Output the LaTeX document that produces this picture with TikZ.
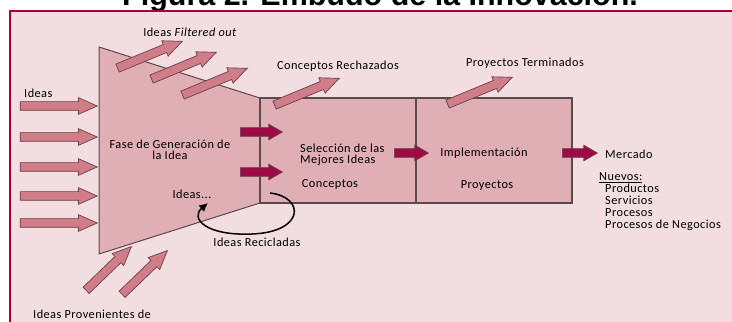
\documentclass[tikz,border=0pt]{standalone}
\usepackage{fontspec}
\setmainfont{Carlito}[LetterSpace=3.6]
\newfontfamily\titlefont{Liberation Sans}
\usetikzlibrary{shapes.arrows,arrows.meta}

\definecolor{panelpink}{HTML}{F2DEE1}
\definecolor{framered}{HTML}{A8003F}
\definecolor{stagefill}{HTML}{E0AEB5}
\definecolor{boxline}{HTML}{5A4A4E}
\definecolor{arrowpink}{HTML}{CE7D89}
\definecolor{arrowdark}{HTML}{9C0B45}
\definecolor{arrowline}{HTML}{6E3C46}

\begin{document}
\begin{tikzpicture}[x=0.3mm,y=-0.3mm,
  lbl/.style={font=\fontsize{10.5}{9.4}\selectfont, inner sep=0pt},
  blockarrow/.style={single arrow, draw=arrowline, line width=0.2mm,
    inner xsep=0pt, inner ysep=1.2mm, anchor=tip},
  pinkarrow/.style={blockarrow, fill=arrowpink, single arrow head extend=1.2mm,
    single arrow tip angle=48},
  darkarrow/.style={blockarrow, fill=arrowdark, single arrow head extend=1.05mm,
    single arrow tip angle=60},
  stagebox/.style={draw=boxline, line width=0.4mm, fill=stagefill,
    minimum width=46.8mm, minimum height=31.5mm, inner sep=0pt}]
\useasboundingbox (0,0) rectangle (732,322);
\clip (0,0) rectangle (732,322);

% title, cut by the panel
\node[anchor=base west, inner sep=0pt,
  font=\titlefont\bfseries\fontsize{26}{30}\selectfont] (title) at (122,6)
  {Figura 2. Embudo de la Innovación.};

% panel
\fill[panelpink] (10,11) rectangle (732,322);
\draw[framered, line width=0.6mm] (10,322) -- (10,11) -- (732,11);

% funnel and stages
\draw[boxline, line width=0.3mm, fill=stagefill]
  (99,47) -- (260,98) -- (260,203) -- (99,254) -- cycle;
\node[stagebox] (select) at (338,150.5) {};
\node[stagebox] (implement) at (494,150.5) {};

% ideas coming in
\foreach \y [count=\i] in {106,137,167,196,223}
  \node[pinkarrow, minimum height=23.1mm] (in\i) at (98,\y) {};
\node[pinkarrow, minimum height=18.9mm, rotate=44] (ext1) at (132,246) {};
\node[pinkarrow, minimum height=18.9mm, rotate=44] (ext2) at (168,250) {};

% ideas going out
\node[pinkarrow, minimum height=21mm, rotate=22.5] (out1) at (183,41) {};
\node[pinkarrow, minimum height=21mm, rotate=22.5] (out2) at (217,52) {};
\node[pinkarrow, minimum height=21mm, rotate=22.5] (out3) at (248,68) {};
\node[pinkarrow, minimum height=21mm, rotate=22.5] (rej) at (340,78) {};
\node[pinkarrow, minimum height=21mm, rotate=22.5] (done) at (513,77) {};

% flow
\node[darkarrow, minimum height=12.6mm] (flow1) at (283,132) {};
\node[darkarrow, minimum height=12.6mm] (flow2) at (283,172) {};
\node[darkarrow, minimum height=10.2mm] (flow3) at (429,153) {};
\node[darkarrow, minimum height=10.5mm] (flow4) at (598,153) {};

% recycled ideas
\coordinate (recstart) at (270,193);
\coordinate (recend) at (208,203);
\draw[line width=0.45mm, -{Latex[length=2.6mm,width=2.6mm]}]
  (recstart) .. controls (305,197) and (305,232) .. (252,234)
  .. controls (205,236) and (190,218) .. (recend);

% labels
\node[lbl] (lfilt) at (190,32) {Ideas \textit{Filtered out}};
\node[lbl, anchor=west] (lideas) at (24,93) {Ideas};
\node[lbl] (lrej) at (338,66) {Conceptos Rechazados};
\node[lbl] (ldone) at (525,63) {Proyectos Terminados};
\node[lbl, align=center] (lfase) at (170,150) {Fase de Generación de\\la Idea};
\node[lbl] (ldots) at (192,194) {Ideas...};
\node[lbl, anchor=west, align=left] (lsel) at (300,155) {Selección de las\\Mejores Ideas};
\node[lbl] (lconc) at (330,185) {Conceptos};
\node[lbl] (limpl) at (484,153) {Implementación};
\node[lbl] (lproy) at (487,186) {Proyectos};
\node[lbl, anchor=west] (lmerc) at (605,154) {Mercado};
\node[lbl, anchor=north west, align=left,
  font=\fontsize{10.5}{10.24}\selectfont] (lnew) at (599,172)
  {\underline{Nuevos:}\\
   \hspace*{1.8mm}Productos\\
   \hspace*{1.8mm}Servicios\\
   \hspace*{1.8mm}Procesos\\
   \hspace*{1.8mm}Procesos de Negocios};
\node[lbl] (lrec) at (257,242) {Ideas Recicladas};
\node[lbl, anchor=west] (lprov) at (33,314) {Ideas Provenientes de};
\end{tikzpicture}
\end{document}
